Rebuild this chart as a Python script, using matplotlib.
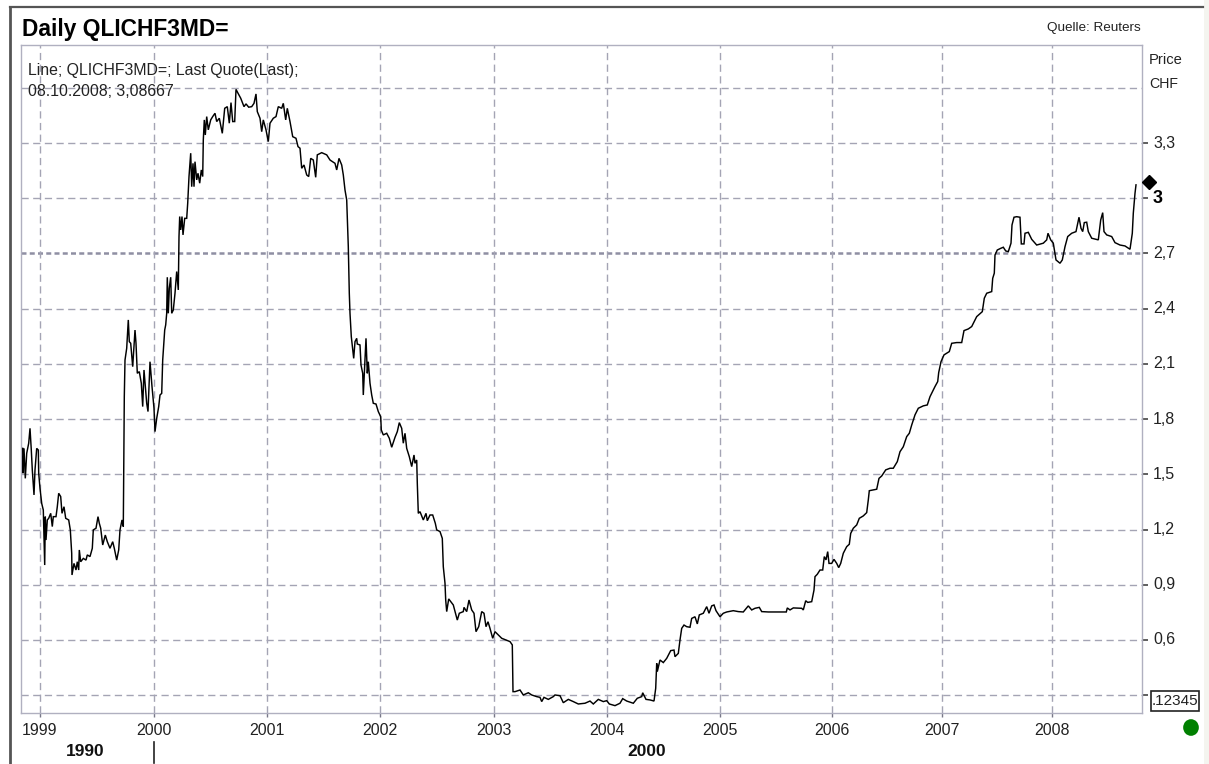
import matplotlib
matplotlib.use("Agg")
import matplotlib.pyplot as plt
from matplotlib.lines import Line2D
from matplotlib.patches import Rectangle, Circle

# x = chart period number along the (trading-calendar) time axis
period = [1.7,2,3,4.3,5.7,7.7,9,10.3,11.3,13,14,15.7,17.3,17.7,19,20.7,22.3,23.7,24.3,25,26.3,27.7,29.7,31.3,32.3,35,36.3,37.7,39.7,41,43,44.7,47.7,49.3,50.7,51,53,55,56.3,57.7,58.3,59.7,62.3,65,66.3,69,71.3,72.3,75,77,78.3,79.7,81.7,84.3,86.3,89,91.7,93.3,95.7,97.7,99,101,102.3,102.7,103.3,104,105.7,107.3,108.3,109.7,111.7,114,115,116.3,118.3,120.3,121.7,123,125.7,127,129,131,133,134,135.7,137.7,139,140.7,141.7,143.7,144.7,
 145.7,146.3,147.3,148.3,149.7,150.7,152.3,154,155.7,157.3,158,158.7,159.7,161,162,163.7,165.7,166.7,168,169.7,170.7,172,173,174,175.7,177,178.7,180.3,181.7,182.3,183.3,184.3,185.7,187.3,189.7,191.7,194,195.7,198.3,201.3,203.7,206.3,208.3,210,211.7,213.7,215,217,219.7,223,225,227.7,230.7,233,235,236.3,239,240.7,242.3,245,247.3,249,252.3,255,257.3,260.7,262.3,264.7,266.3,269,271.7,275,277,279,280.7,283,285.7,287.7,289.7,292.3,294.7,296.3,300.7,305.7,309,314,315.7,318,320.7,322.3,324,325.7,327.3,328.3,329,330.3,332.7,
 334,335.7,336.3,339,340,341.7,342.3,343.3,345,346.3,347.3,349,350.7,352.3,355,357.3,359.7,360.3,362.3,365.7,368.3,370.7,374,376.3,378.3,380.7,382.3,384,385.7,388.3,390.7,393,394,395.7,396.3,397.3,
 399,402.3,405,406.3,409,411.7,414.3,415.7,419,421.3,422.3,424,424.7,425.7,427.7,432.3,436.3,438.3,442.3,443,445.7,448,450.7,453,455,457.7,460.7,463,465,467,469,471.7,474,477.3,480.7,485,489,491.3,492,494,499,502.3,507.3,510.7,515.7,519,520.7,523,527.3,532.3,534,539,542.3,547.3,552.3,557.3,564,569,572.3,577.3,582.3,585.7,588.3,594,599,601.7,605.7,612.3,616.3,620.7,621.7,625,629,633,634.7,635.7,636.3,639,642.3,645.7,649.7,653,654,657.3,658.3,
 659,660.7,663,665.7,669,670.7,674,676.3,678.3,682.3,685.7,688,690.7,693,695,699,702.3,705.7,712.3,717.3,722.3,727.3,730.7,734,738.3,740.7,747.3,756.3,765.3,766.3,769,772.3,780.7,782.3,784.7,786.7,790.7,793,794,796.3,799,801.7,803.3,805,806.7,808,810.7,813,815.7,817.7,819.7,822.3,825.7,828.3,829.7,832.3,835.7,838.3,842.3,845.7,847.3,848.3,852.3,855.7,858,860.7,864.7,869,872.3,876.3,879,882.3,885.7,888.3,890.7,894,897.3,902.3,906.3,
 909,914,916.7,917.7,920,923,928.3,930.7,935.7,940.7,943,947.3,950.7,955.7,961.3,963.3,965.7,970.7,971.7,973.3,974,976.3,979.7,982.3,984.7,987.3,990,991,993,995.7,999,1000.3,1003,1004,1007.3,1010.7,1015.7,1022.3,1025.7,1027,1029.7,1032.3,1035,1039,1041.3,1044,1046.7,1050.7,1055,1058,1060,1061.7,1063.3,1065.7,1067.3,1070.7,1077.3,1079.7,1081.7,1083,1085.7,1090.7,1094,1099,1104,1109,1111.3,1112.3,1114,1115]

price = [1.641,1.506,1.641,1.478,1.614,1.669,1.750,1.632,1.524,1.388,1.524,1.641,1.632,1.506,1.424,1.342,1.306,1.007,1.270,1.143,1.252,1.261,1.288,1.216,1.270,1.270,1.324,1.397,1.379,1.288,1.324,1.261,1.252,1.198,1.071,0.953,1.016,0.980,1.025,0.980,1.089,1.025,1.043,1.034,1.062,1.053,1.098,1.198,1.207,1.270,1.234,1.207,1.116,1.170,1.134,1.098,1.134,1.098,1.034,1.089,1.198,1.252,1.216,1.506,1.922,2.121,2.185,2.339,2.221,2.212,2.085,2.284,2.212,2.049,2.058,1.995,1.868,2.067,1.886,1.841,2.112,1.977,1.859,1.732,1.804,1.868,1.931,1.940,2.121,2.284,2.312,
 2.375,2.571,2.375,2.511,2.571,2.375,2.393,2.484,2.602,2.502,2.792,2.901,2.828,2.901,2.801,2.891,2.891,2.973,3.118,3.245,3.063,3.190,3.063,3.199,3.100,3.136,3.082,3.154,3.118,3.317,3.426,3.344,3.444,3.372,3.426,3.444,3.462,3.417,3.435,3.353,3.489,3.498,3.408,3.520,3.417,3.417,3.592,3.571,3.544,3.498,3.513,3.495,3.498,3.516,3.567,3.471,3.435,3.362,3.426,3.372,3.308,3.408,3.435,3.444,3.498,3.489,3.516,3.426,3.489,3.417,3.335,3.326,3.281,3.272,3.163,3.181,3.127,3.118,3.217,3.208,3.114,3.236,3.248,3.236,3.208,3.190,3.154,3.217,3.181,3.127,3.045,2.991,2.737,2.484,2.375,2.248,2.130,
 2.221,2.239,2.208,2.203,2.094,2.049,1.931,2.049,2.239,2.049,2.112,1.995,1.931,1.886,1.882,1.841,1.813,1.741,1.714,1.723,1.696,1.647,1.701,1.732,1.781,1.750,1.669,1.723,1.641,1.596,1.542,1.605,1.560,1.578,1.451,1.288,
 1.297,1.252,1.288,1.248,1.279,1.279,1.234,1.198,1.189,1.152,0.998,0.908,0.817,0.754,0.823,0.790,0.708,0.745,0.754,0.777,0.754,0.817,0.763,0.745,0.645,0.672,0.754,0.745,0.672,0.699,0.663,0.609,0.645,0.627,0.609,0.600,0.591,0.573,0.319,0.319,0.328,0.301,0.313,0.301,0.292,0.288,0.265,0.288,0.277,0.292,0.301,0.297,0.259,0.277,0.265,0.252,0.256,0.268,0.252,0.277,0.265,0.270,0.252,0.243,0.256,0.281,0.268,0.256,0.283,0.292,0.313,0.277,0.274,0.268,0.337,0.473,0.428,0.491,0.477,0.500,0.542,0.545,0.509,0.527,0.572,
 0.600,0.663,0.681,0.672,0.669,0.717,0.726,0.687,0.736,0.745,0.781,0.745,0.785,0.790,0.759,0.726,0.745,0.752,0.759,0.754,0.752,0.785,0.763,0.772,0.777,0.754,0.752,0.752,0.752,0.774,0.763,0.774,0.772,0.763,0.813,0.804,0.808,0.871,0.944,0.957,0.980,0.980,1.053,1.035,1.080,1.016,1.016,1.038,1.016,0.993,1.016,1.071,1.107,1.120,1.179,1.207,1.225,1.261,1.274,1.292,1.361,1.411,1.415,1.419,1.478,1.491,1.524,1.533,1.533,1.569,1.623,1.650,1.705,1.723,1.768,1.823,1.859,1.872,1.877,
 1.922,1.977,2.004,2.053,2.112,2.149,2.167,2.212,2.216,2.216,2.281,2.290,2.303,2.357,2.384,2.457,2.484,2.493,2.565,2.593,2.692,2.719,2.728,2.734,2.714,2.710,2.756,2.855,2.897,2.900,2.897,2.752,2.752,2.810,2.815,2.777,2.746,2.756,2.774,2.810,2.774,2.756,2.665,2.647,2.665,2.737,2.792,2.810,2.819,2.897,2.837,2.819,2.868,2.870,2.819,2.783,2.774,2.882,2.922,2.819,2.801,2.792,2.759,2.746,2.741,2.723,2.810,2.919,3.027,3.073]

year_labels = ["1999","2000","2001","2002","2003","2004","2005","2006","2007","2008"]
year_periods = [18.5,132.5,246,358.5,473,585.7,699.3,811,921,1031]
price_levels = [0.3,0.6,0.9,1.2,1.5,1.8,2.1,2.4,2.7,3.0,3.3,3.6]
price_labels = ["3,3","2,7","2,4","2,1","1,8","1,5","1,2","0,9","0,6"]
price_label_levels = [3.3,2.7,2.4,2.1,1.8,1.5,1.2,0.9,0.6]
last_value = 3.08667

W, H = 1209, 764
FONT = "Liberation Sans"
GRID = "#a4a4b4"
plt.rcParams["font.family"] = FONT
fig = plt.figure(figsize=(W/100, H/100), dpi=100, facecolor="white")
L, R, T, B = 21, 1142, 45, 713
ax = fig.add_axes([L/W, 1-B/H, (R-L)/W, (B-T)/H])
ax.set_xlim(0, 1121)
ax.set_ylim(0.203, 3.833)
for s in ax.spines.values():
    s.set_color("#b0b0c0"); s.set_linewidth(1.0)
ax.plot(period, price, color="black", lw=1.05, solid_joinstyle="miter", zorder=3)
ax.plot([1128], [last_value], marker="D", ms=7.5, color="black", clip_on=False, zorder=4)

ax.set_xticks(year_periods)
ax.set_xticklabels(year_labels, fontsize=11.5, color="#222222")
ax.tick_params(axis="x", length=3, width=1.0, color="#777788", pad=4.5)
ax.yaxis.tick_right()
ax.set_yticks(price_levels[:-1])
ax.set_yticklabels(["" for _ in price_levels[:-1]])
ax.tick_params(axis="y", length=4, width=1.1, color="#333333", pad=3)
for lv in price_levels:
    if lv == 2.7:
        ax.axhline(lv, color="#8f8fa3", lw=1.8, dashes=(2.0, 1.3), zorder=1)
    else:
        ax.axhline(lv, color=GRID, lw=1.0, dashes=(5.2, 3.2), zorder=1)
for xp in year_periods:
    ax.axvline(xp, color=GRID, lw=1.0, dashes=(5.2, 3.2), zorder=1)

tx = ax.get_yaxis_transform()
for lv, lab in zip(price_label_levels, price_labels):
    ax.text(1.0098, lv, lab, transform=tx, fontsize=11.5, va="center", ha="left", color="#222222")
ax.text(1.0098, 3.0, "3", transform=tx, fontsize=13, fontweight="bold", va="center", ha="left")

def ftext(px, py, s, **kw):
    fig.text(px/W, 1-py/H, s, **kw)

ftext(22, 29.5, "Daily QLICHF3MD=", fontsize=16.4, fontweight="bold", va="center", ha="left")
ftext(1141, 28.5, "Quelle: Reuters", fontsize=9.7, va="center", ha="right", color="#222222")
ftext(1149, 59.5, "Price", fontsize=10.6, va="center", ha="left", color="#222222")
ftext(1149, 84.5, "CHF", fontsize=10.2, va="center", ha="left", color="#222222")
ftext(28, 70, "Line; QLICHF3MD=; Last Quote(Last);", fontsize=11.4, va="center", ha="left", color="#222222")
ftext(28, 91, "08.10.2008; 3,08667", fontsize=11.4, va="center", ha="left", color="#222222")
ftext(85, 751.5, "1990", fontsize=12.5, fontweight="bold", va="center", ha="center", color="#111111")
ftext(647, 751.5, "2000", fontsize=12.5, fontweight="bold", va="center", ha="center", color="#111111")
ftext(1175, 701, ".12345", fontsize=11, va="center", ha="center", color="#222222", zorder=6)

def px_line(x0, y0, x1, y1, **kw):
    fig.add_artist(Line2D([x0/W, x1/W], [1-y0/H, 1-y1/H], transform=fig.transFigure, **kw))

px_line(153.5, 742, 153.5, 763, color="#222222", lw=1.2)
px_line(9.5, 764, 9.5, 7, color="#555555", lw=2.0)
px_line(9.5, 7, 1203, 7, color="#555555", lw=1.6)
fig.add_artist(Rectangle((1151/W, 1-711/H), 48/W, 20/H, transform=fig.transFigure,
                         fc="white", ec="#222222", lw=1.2, zorder=5))
fig.add_artist(Rectangle((1203.5/W, 0), 5.5/W, 1, transform=fig.transFigure, fc="#f4f4ef", ec="none"))
ax2 = fig.add_axes([1183/W, 1-736/H, 16/W, 17/H])
ax2.axis("off"); ax2.set_xlim(-1, 1); ax2.set_ylim(-1, 1)
ax2.add_patch(Circle((0, 0), 0.98, fc="#008000", ec="none"))

fig.savefig("out.png", dpi=100)
